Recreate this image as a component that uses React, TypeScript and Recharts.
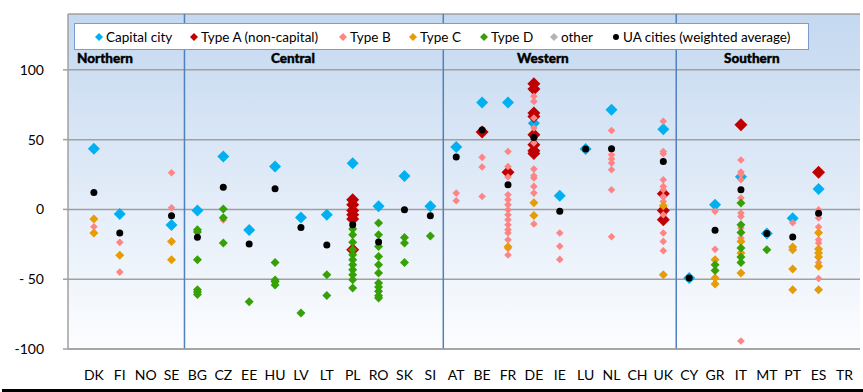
import React from "react";
import { ScatterChart, Scatter, XAxis, YAxis, CartesianGrid, ReferenceLine } from "recharts";

const categories = ["DK","FI","NO","SE","BG","CZ","EE","HU","LV","LT","PL","RO","SK","SI","AT","BE","FR","DE","IE","LU","NL","CH","UK","CY","GR","IT","MT","PT","ES","TR"];
const yTicks = [-100, -50, 0, 50, 100];
const regionBreaks = [4.5, 14.5, 23.5];
const regionLabels: [string, number][] = [["Northern", 1.43], ["Central", 8.69], ["Western", 18.35], ["Southern", 26.42]];
const regionLabelY = 108.7;

type Pt = [string, number];

const capitalCity: Pt[] = [
  ["DK",43.5],["FI",-3.3],["SE",-11.2],["BG",-0.7],["CZ",38],["EE",-14.8],["HU",30.8],["LV",-5.8],["LT",-3.8],["PL",33],
  ["RO",2.3],["SK",23.9],["SI",2.2],["AT",44.7],["BE",76.6],["FR",76.6],["DE",61.7],["IE",9.8],["LU",43.3],["NL",71.4],
  ["UK",57.4],["CY",-49.2],["GR",3.4],["IT",23.4],["MT",-17.2],["PT",-6.3],["ES",14.7],
];

const typeA: Pt[] = [
  ["PL",7],["PL",3.4],["PL",-0.7],["PL",-3.8],["PL",-6.9],["PL",-28.9],
  ["BE",55.4],["FR",26.6],
  ["DE",90],["DE",86.2],["DE",69],["DE",66.6],["DE",53.5],["DE",46.3],["DE",42],["DE",40],
  ["UK",11.2],["UK",-0.7],["UK",-7.4],
  ["IT",60.7],["ES",26.6],
];

const typeB: Pt[] = [
  ["DK",-12.4],["FI",-23.6],["FI",-44.9],["SE",26.3],["SE",1.2],["CZ",-7.6],
  ["AT",11.7],["AT",6.2],["BE",37.3],["BE",30.4],["BE",9.3],
  ["FR",41.5],["FR",30.8],["FR",23.2],["FR",10.5],["FR",7],["FR",3.4],["FR",-0.2],["FR",-3.8],["FR",-7.4],["FR",-11],["FR",-14.5],["FR",-16.9],["FR",-21.7],["FR",-28],["FR",-32.7],
  ["DE",81],["DE",77.4],["DE",65.5],["DE",58.3],["DE",47.6],["DE",28.9],["DE",24.1],["DE",22.5],["DE",16.5],["DE",11.7],["DE",-10.5],
  ["IE",-16.9],["IE",-26.4],["IE",-35.8],
  ["NL",56.5],["NL",39.2],["NL",36.1],["NL",33.2],["NL",28.4],["NL",14.1],["NL",-19.6],
  ["UK",63.2],["UK",41.5],["UK",39.9],["UK",21.3],["UK",16.5],["UK",14.1],["UK",9.3],["UK",5.7],["UK",-3.8],["UK",-16.9],["UK",-22.9],["UK",-29.6],
  ["GR",-1.4],["GR",-28.6],
  ["IT",35.4],["IT",26.8],["IT",25],["IT",21.3],["IT",8.2],["IT",-2.6],["IT",-5],["IT",-13.3],["IT",-20.5],["IT",-94.3],
  ["PT",-9.5],
  ["ES",-0.2],["ES",-6.2],["ES",-12.6],["ES",-21.7],["ES",-24.1],["ES",-38],["ES",-49.5],
];

const typeC: Pt[] = [
  ["DK",-6.9],["DK",-16.9],["FI",-32.9],["SE",-22.9],["SE",-36],["FR",-26.7],["DE",4.8],["DE",-4.3],
  ["UK",2.7],["UK",-46.8],["GR",-36],["GR",-49.2],["GR",-53.5],["IT",-22.9],["IT",-31.2],["IT",-45.6],
  ["PT",-26.9],["PT",-28.9],["PT",-42.7],["PT",-57.5],
  ["ES",-16.7],["ES",-28.4],["ES",-31.2],["ES",-34.1],["ES",-40.8],["ES",-57.5],
];

const typeD: Pt[] = [
  ["BG",-14.5],["BG",-16.2],["BG",-36],["BG",-57.5],["BG",-59.2],["BG",-60.9],
  ["CZ",0.3],["CZ",-5.9],["CZ",-24.1],["EE",-66.1],
  ["HU",-38],["HU",-50.6],["HU",-51.8],["HU",-54.2],["LV",-74.2],["LT",-46.8],["LT",-61.6],
  ["PL",-14],["PL",-18.1],["PL",-23.6],["PL",-28.9],["PL",-32.5],["PL",-36],["PL",-39.6],["PL",-43.2],["PL",-46.8],["PL",-50.4],["PL",-56.3],
  ["RO",-9.8],["RO",-18.1],["RO",-26.5],["RO",-33.7],["RO",-39.6],["RO",-45.6],["RO",-52.7],["RO",-55.6],["RO",-58.7],["RO",-61.8],["RO",-63.5],
  ["SK",-20.2],["SK",-24.1],["SK",-38],["SI",-19],
  ["GR",-39.6],["GR",-43.7],
  ["IT",4.6],["IT",-11],["IT",-16.5],["IT",-27.7],["IT",-34.1],["IT",-38],
  ["MT",-28.9],
];

const other: Pt[] = [];

const uaCities: Pt[] = [
  ["DK",12.2],["FI",-16.9],["SE",-4.5],["BG",-20],["CZ",15.8],["EE",-24.8],["HU",14.8],["LV",-12.9],["LT",-25.5],["PL",-11],
  ["RO",-23.4],["SK",-0.2],["SI",-4.5],["AT",37.5],["BE",56.9],["FR",17.7],["DE",51.6],["IE",-1.4],["LU",43.3],["NL",43.5],
  ["UK",34.4],["CY",-49.2],["GR",-15],["IT",14.1],["MT",-17.2],["PT",-19.8],["ES",-2.8],
];

const toData = (pts: Pt[]) => pts.map(([c, v]) => ({ x: categories.indexOf(c) + 1, y: v }));

const FONT = "Lato, 'DejaVu Sans', sans-serif";

const diamond = (half: number, fill: string) => (props: any) => {
  const { cx, cy } = props;
  if (cx == null || cy == null) return <g />;
  return <path d={`M${cx},${cy - half}L${cx + half},${cy}L${cx},${cy + half}L${cx - half},${cy}Z`} fill={fill} />;
};
const dot = (r: number, fill: string) => (props: any) => {
  const { cx, cy } = props;
  if (cx == null || cy == null) return <g />;
  return <circle cx={cx} cy={cy} r={r} fill={fill} />;
};

const series = [
  { name: "Capital city", data: capitalCity, color: "#00b0f0", shape: diamond(6, "#00b0f0"), legend: "diamond" },
  { name: "Type A (non-capital)", data: typeA, color: "#c00000", shape: diamond(6.5, "#c00000"), legend: "diamond" },
  { name: "Type B", data: typeB, color: "#ff8585", shape: diamond(3.8, "#ff8585"), legend: "diamond" },
  { name: "Type C", data: typeC, color: "#e69c06", shape: diamond(4.5, "#e69c06"), legend: "diamond" },
  { name: "Type D", data: typeD, color: "#36a106", shape: diamond(4.5, "#36a106"), legend: "diamond" },
  { name: "other", data: other, color: "#b4b4b4", shape: diamond(4, "#b4b4b4"), legend: "diamond" },
  { name: "UA cities (weighted average)", data: uaCities, color: "#000000", shape: dot(3.5, "#000000"), legend: "circle" },
];

// legend item horizontal offsets (px inside legend box)
const legendOffsets = [20, 115, 264, 334, 405, 475, 537];

const regionShape = (props: any) => {
  const { cx, cy, payload } = props;
  return (
    <text x={cx} y={cy} dy={5} textAnchor="middle" fontFamily={FONT} fontSize={13.5} fontWeight={900} fill="#000" stroke="#000" strokeWidth={0.4}>
      {payload.name}
    </text>
  );
};

const XTick = (props: any) => {
  const { x, y, payload } = props;
  const label = categories[payload.value - 1] ?? "";
  return (
    <text x={x} y={y + 23} textAnchor="middle" fontFamily={FONT} fontSize={14} fill="#000">{label}</text>
  );
};

const YTick = (props: any) => {
  const { y, payload } = props;
  const v = payload.value;
  const label = v === -50 ? "- 50" : String(v);
  return (
    <text x={44} y={y + 5} textAnchor="end" fontFamily={FONT} fontSize={14} fill="#000">{label}</text>
  );
};

export default function App() {
  return (
    <div style={{ position: "absolute", left: 0, top: 0, width: 863, height: 392, background: "#fff", overflow: "hidden" }}>
      <ScatterChart width={863} height={392} margin={{ top: 14, right: 3, bottom: 0, left: 0 }}>
        <defs>
          <linearGradient id="bgGrad" x1="0" y1="0" x2="0" y2="1">
            <stop offset="0%" stopColor="#c4d8f0" />
            <stop offset="100%" stopColor="#fcfdff" />
          </linearGradient>
        </defs>
        <CartesianGrid vertical={false} stroke="#a0a0a0" strokeWidth={1.5} fill="url(#bgGrad)" fillOpacity={1} />
        <XAxis type="number" dataKey="x" domain={[0, 30.6]} ticks={categories.map((_, i) => i + 1)} interval={0}
          tickLine={false} axisLine={{ stroke: "#a0a0a0", strokeWidth: 1.5 }} height={43} tick={<XTick />} allowDataOverflow />
        <YAxis type="number" dataKey="y" domain={[-100, 140]} ticks={yTicks} interval={0} width={68}
          tickSize={5} tickLine={{ stroke: "#a0a0a0", strokeWidth: 1.5 }} axisLine={{ stroke: "#a0a0a0", strokeWidth: 1.5 }} tick={<YTick />} allowDataOverflow />
        {regionBreaks.map((b) => (
          <ReferenceLine key={b} x={b} stroke="#4f81bd" strokeWidth={1.5} />
        ))}
        <Scatter name="regions" data={regionLabels.map(([name, x]) => ({ x, y: regionLabelY, name }))} shape={regionShape} isAnimationActive={false} />
        {series.map((s) => (
          <Scatter key={s.name} name={s.name} data={toData(s.data)} fill={s.color} shape={s.shape} isAnimationActive={false} />
        ))}
      </ScatterChart>
      <div style={{ position: "absolute", left: 74, top: 23, width: 733, height: 25, background: "#fff", border: "1px solid #7a9ccf", boxSizing: "content-box" }}>
        {series.map((s, i) => (
          <div key={s.name} style={{ position: "absolute", left: legendOffsets[i], top: 0, height: 25, display: "flex", alignItems: "center", whiteSpace: "nowrap", fontFamily: FONT, fontSize: 13.5, color: "#000" }}>
            <svg width={8} height={8} style={{ marginRight: 3 }}>
              {s.legend === "circle"
                ? <circle cx={4} cy={4} r={3} fill={s.color} />
                : <path d="M4,0L8,4L4,8L0,4Z" fill={s.color} />}
            </svg>
            <span>{s.name}</span>
          </div>
        ))}
      </div>
      <div style={{ position: "absolute", left: 2, top: 389, width: 861, height: 2.5, background: "#000" }} />
    </div>
  );
}
